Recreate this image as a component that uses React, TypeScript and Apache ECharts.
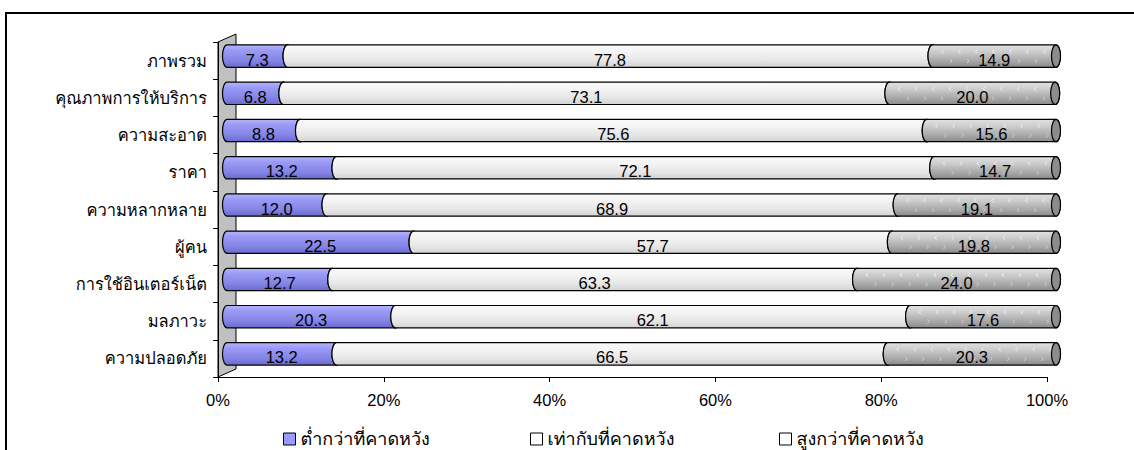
import React, { useEffect, useRef } from "react";
import * as echarts from "echarts";

// Satisfaction survey: share of respondents per aspect (percent)
const categories = [
  "ภาพรวม",
  "คุณภาพการให้บริการ",
  "ความสะอาด",
  "ราคา",
  "ความหลากหลาย",
  "ผู้คน",
  "การใช้อินเตอร์เน็ต",
  "มลภาวะ",
  "ความปลอดภัย",
];
const seriesNames = ["ต่ำกว่าที่คาดหวัง", "เท่ากับที่คาดหวัง", "สูงกว่าที่คาดหวัง"];
const lower = [7.3, 6.8, 8.8, 13.2, 12.0, 22.5, 12.7, 20.3, 13.2];
const equal = [77.8, 73.1, 75.6, 72.1, 68.9, 57.7, 63.3, 62.1, 66.5];
const higher = [14.9, 20.0, 15.6, 14.7, 19.1, 19.8, 24.0, 17.6, 20.3];
const xTicks = [0, 20, 40, 60, 80, 100];

const FONT = "'Liberation Sans', Loma, Garuda, Waree, Umpush, 'Tlwg Typo', Norasi, 'Noto Sans Thai', sans-serif";
const NUM_FONT = "'Liberation Sans', Arial, sans-serif";

// grid placement (pixels)
const G_LEFT = 218;
const G_RIGHT = 87;
const G_TOP = 42;
const G_BOTTOM = 73;
const DEPTH_X = 18;
const DEPTH_Y = 8;

// legend slots (equal width)
const LEGEND_LEFT = [283, 530, 779];
const LEGEND_TOP = 430;

type Style = { body: any; cap: string; legend: string; chevrons: boolean };

const styles: Style[] = [
  {
    body: new echarts.graphic.LinearGradient(0, 0, 0, 1, [
      { offset: 0, color: "#b4b4ff" },
      { offset: 0.25, color: "#9a9af6" },
      { offset: 0.7, color: "#8484e6" },
      { offset: 1, color: "#6a6acc" },
    ]),
    cap: "#7a7ad8",
    legend: "#9999ff",
    chevrons: false,
  },
  {
    body: new echarts.graphic.LinearGradient(0, 0, 0, 1, [
      { offset: 0, color: "#fafafa" },
      { offset: 0.3, color: "#f4f4f4" },
      { offset: 0.7, color: "#e6e6e6" },
      { offset: 1, color: "#d2d2d2" },
    ]),
    cap: "#dcdcdc",
    legend: "#ffffff",
    chevrons: false,
  },
  {
    body: new echarts.graphic.LinearGradient(0, 0, 0, 1, [
      { offset: 0, color: "#e2e2e2" },
      { offset: 0.3, color: "#cdcdcd" },
      { offset: 0.7, color: "#a9a9a9" },
      { offset: 1, color: "#8a8a8a" },
    ]),
    cap: "#8c8c8c",
    legend: "#ffffff",
    chevrons: true,
  },
];

function buildData(values: number[], offsets: number[]) {
  return values.map((v, i) => [offsets[i], offsets[i] + v, i, v]);
}

// small "<" / ">" texture marks over the patterned segment
function chevronMarks(x0: number, x1: number, top: number, h: number) {
  const marks: any[] = [];
  const step = 17;
  for (let x = x0 + 9; x < x1 - 6; x += step) {
    const yA = top + h * 0.3;
    marks.push({
      type: "polyline",
      shape: { points: [[x + 2, yA - 2], [x, yA], [x + 2, yA + 2]] },
      style: { stroke: "#f2f2f2", lineWidth: 1, fill: "none" },
      silent: true,
    });
    const xb = x + step / 2;
    if (xb < x1 - 6) {
      const yB = top + h * 0.72;
      marks.push({
        type: "polyline",
        shape: { points: [[xb, yB - 2], [xb + 2, yB], [xb, yB + 2]] },
        style: { stroke: "#cfcfcf", lineWidth: 1, fill: "none" },
        silent: true,
      });
    }
  }
  return marks;
}

function cylinderItem(style: Style) {
  return (params: any, api: any) => {
    const s = api.value(0);
    const e = api.value(1);
    const c = api.value(2);
    const v = api.value(3);
    const p0 = api.coord([s, c]);
    const p1 = api.coord([e, c]);
    const band = api.size([0, 1])[1];
    const h = band * 0.6;
    const dx = DEPTH_X / 2;
    const dy = -DEPTH_Y / 2 - 0.5;
    const x0 = p0[0] + dx;
    const x1 = p1[0] + dx;
    const cy = p0[1] + dy;
    const top = cy - h / 2;
    const bot = cy + h / 2;
    const rx = 4.5;
    const ry = h / 2;
    const d =
      `M${x0},${top} L${x1},${top} A${rx},${ry} 0 0 1 ${x1},${bot} ` +
      `L${x0},${bot} A${rx},${ry} 0 0 1 ${x0},${top} Z`;
    const children: any[] = [
      {
        type: "path",
        shape: { pathData: d },
        style: { fill: style.body, stroke: "#000", lineWidth: 1.2 },
      },
    ];
    if (style.chevrons) children.push(...chevronMarks(x0, x1, top, h));
    children.push(
      {
        type: "ellipse",
        shape: { cx: x1, cy, rx, ry },
        style: { fill: style.cap, stroke: "#000", lineWidth: 1.2 },
      },
      {
        type: "text",
        style: {
          x: (x0 + x1) / 2,
          y: cy + 3.5,
          text: v.toFixed(1),
          align: "center",
          verticalAlign: "middle",
          fontSize: 16.5,
          fontFamily: NUM_FONT,
          fill: "#000",
        },
      }
    );
    return { type: "group", children };
  };
}

export default function App() {
  const ref = useRef<HTMLDivElement>(null);

  useEffect(() => {
    if (!ref.current) return;
    const chart = echarts.init(ref.current, null, { renderer: "svg" });

    const off1 = lower.map(() => 0);
    const off2 = lower.slice();
    const off3 = lower.map((v, i) => v + equal[i]);

    const H = 450;
    const axL = G_LEFT;
    const axB = H - G_BOTTOM;

    chart.setOption({
      animation: false,
      textStyle: { fontFamily: FONT },
      grid: { left: G_LEFT, right: G_RIGHT, top: G_TOP, bottom: G_BOTTOM },
      xAxis: {
        type: "value",
        min: 0,
        max: 100,
        interval: 20,
        axisLine: { show: true, lineStyle: { color: "#000", width: 1 } },
        axisTick: { show: true, length: 5, lineStyle: { color: "#000" } },
        splitLine: { show: false },
        axisLabel: {
          formatter: (v: number) => (xTicks.includes(v) ? `${v}%` : ""),
          fontSize: 16.5,
          color: "#000",
          margin: 14,
          fontFamily: NUM_FONT,
        },
      },
      yAxis: {
        type: "category",
        data: categories,
        inverse: true,
        axisLine: { show: true, lineStyle: { color: "#000", width: 1 } },
        axisTick: { show: true, length: 5, lineStyle: { color: "#000" } },
        splitLine: { show: false },
        axisLabel: { fontSize: 16.5, color: "#000", margin: 11, fontFamily: FONT },
      },
      legend: seriesNames.map((n, i) => ({
        left: LEGEND_LEFT[i],
        top: LEGEND_TOP,
        padding: 0,
        itemWidth: 12,
        itemHeight: 12,
        itemGap: 4,
        icon: "rect",
        textStyle: { fontSize: 18, color: "#000", fontFamily: FONT },
        data: [
          {
            name: n,
            itemStyle: { color: styles[i].legend, borderColor: "#000", borderWidth: 1 },
          },
        ],
      })),
      graphic: [
        {
          type: "rect",
          z: -10,
          shape: { x: 6, y: 13, width: 1400, height: 600 },
          style: { fill: "none", stroke: "#000", lineWidth: 2 },
        },
        {
          type: "polygon",
          z: -5,
          shape: {
            points: [
              [axL, G_TOP],
              [axL + DEPTH_X, G_TOP - DEPTH_Y],
              [axL + DEPTH_X, axB - DEPTH_Y],
              [axL, axB],
            ],
          },
          style: { fill: "#c0c0c0", stroke: "#000", lineWidth: 1 },
        },
      ],
      series: seriesNames.map((n, i) => ({
        type: "custom",
        name: n,
        itemStyle: { color: styles[i].legend },
        renderItem: cylinderItem(styles[i]),
        encode: { x: [0, 1], y: 2 },
        data: buildData([lower, equal, higher][i], [off1, off2, off3][i]),
        z: 3 + i,
      })),
    });

    return () => chart.dispose();
  }, []);

  return (
    <div
      ref={ref}
      style={{ position: "fixed", left: 0, top: 0, width: 1134, height: 450, background: "#fff" }}
    />
  );
}
